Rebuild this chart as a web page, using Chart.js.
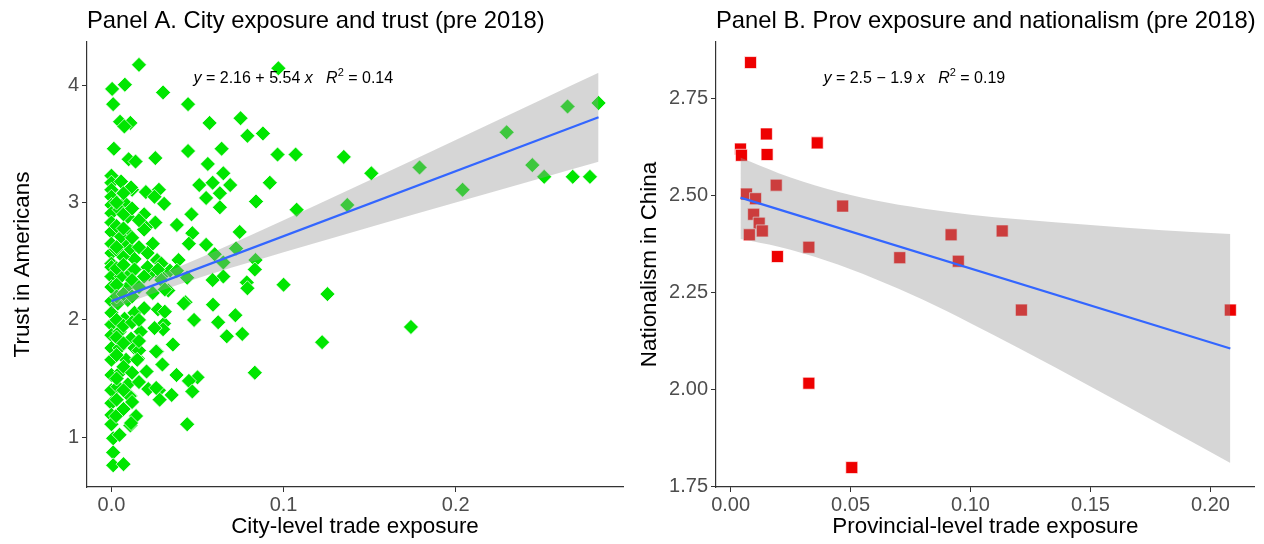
<!DOCTYPE html>
<html lang="en">
<head>
<meta charset="UTF-8">
<title>Trade exposure panels</title>
<script src="https://cdn.jsdelivr.net/npm/chart.js"></script>
<style>
    body {
        margin: 0;
        background: #ffffff;
        font-family: "Liberation Sans", Arial, sans-serif;
    }
    .panels {
        display: flex;
        width: 1264px;
        height: 544px;
    }
    canvas {
        display: block;
    }
</style>
</head>
<body>
<div class="panels">
    <canvas id="panelA" width="632" height="544"></canvas>
    <canvas id="panelB" width="632" height="544"></canvas>
</div>
<script>
// ---- Panel A: city-level exposure vs trust
const cityExposure = [
    0.016, 0.097, 0.0004, 0.0078, 0.030, 0.001, 0.0445, 0.005, 0.011, 0.0075,
    0.057, 0.075, 0.079, 0.088, 0.0014, 0.0445, 0.064, 0.0965, 0.107, 0.135,
    0.151, 0.179, 0.2296, 0.265, 0.283, 0.2445, 0.2514, 0.268, 0.278, 0.204,
    0.137, 0.1076, 0.010, 0.014, 0.0255, 0.056, 0.065, 0.051, 0.0588, 0.069,
    0.055, 0.063, 0.063, 0.092, 0.084, 0.012, 0.020, 0.0276, 0.0306, 0.019,
    0.0255, 0.038, 0.0465, 0.047, 0.0745, 0.020, 0.055, 0.0724, 0.060, 0.065,
    0.0837, 0.0833, 0.0786, 0.079, 0.100, 0.1255, 0.039, 0.044, 0.065, 0.0588,
    0.034, 0.029, 0.043, 0.059, 0.062, 0.048, 0.072, 0.076, 0.067, 0.174,
    0.1224, 0.0357, 0.0265, 0.0296, 0.0833, 0.0378, 0.050, 0.045, 0.047, 0.0214,
    0.0276, 0.028, 0.035, 0.0204, 0.011, 0.044, 0.0143, 0.011, 0.001, 0.001,
    0.001, 0.007, 0.0306, 0.030, 0.038, 0.0265, 0.033, 0.022,
    0.0, 0.0, 0.0, 0.0, 0.0, 0.0, 0.0, 0.0, 0.0, 0.0, 0.0,
    0.0, 0.0, 0.0, 0.0, 0.0, 0.0, 0.0, 0.0, 0.0, 0.0, 0.0, 0.0, 0.0, 0.0,
    0.0056, 0.0114, 0.025, 0.0076, 0.0095, 0.0047, 0.019, 0.024, 0.021, 0.0095,
    0.0085, 0.0114, 0.0134, 0.0066, 0.0027, 0.0056, 0.045, 0.029,
    0.0056, 0.0114, 0.0095, 0.0037, 0.0095, 0.0076, 0.0134, 0.0047, 0.0114, 0.0047,
    0.0134, 0.0085, 0.0153, 0.0056, 0.0095, 0.0037, 0.0105, 0.0114, 0.0027, 0.0047,
    0.0134, 0.021, 0.019, 0.027, 0.029, 0.024, 0.031, 0.019, 0.027, 0.031,
    0.025, 0.017, 0.016, 0.015, 0.026, 0.026, 0.042,
    0.003, 0.003, 0.003, 0.003, 0.003, 0.003, 0.003, 0.003, 0.003, 0.003, 0.003,
    0.007, 0.007, 0.007, 0.007, 0.007, 0.007, 0.007, 0.007, 0.007, 0.007,
    0.012, 0.012, 0.012, 0.012, 0.012, 0.012, 0.012,
    0.016, 0.016, 0.016, 0.016, 0.016, 0.016
];
const cityTrust = [
    4.175, 4.146, 3.97, 4.006, 3.94, 3.84, 3.84, 3.69, 3.68, 3.65,
    3.68, 3.72, 3.57, 3.59, 3.46, 3.44, 3.46, 3.41, 3.41, 3.39,
    3.25, 3.30, 3.60, 3.82, 3.85, 3.32, 3.22, 3.22, 3.22, 3.11,
    2.98, 2.94, 3.37, 3.35, 3.38, 3.33, 3.25, 3.15, 3.17, 3.15,
    3.04, 3.08, 2.96, 3.17, 3.01, 3.11, 3.09, 3.11, 2.99, 2.90,
    2.83, 2.81, 2.90, 2.74, 2.75, 2.79, 2.64, 2.61, 2.56, 2.49,
    2.51, 2.43, 2.32, 2.27, 2.30, 2.22, 2.51, 2.36, 2.37, 2.34,
    2.42, 2.37, 2.15, 2.13, 1.98, 2.00, 2.04, 1.88, 1.86, 1.94,
    1.81, 1.79, 1.73, 1.62, 1.55, 1.53, 1.51, 1.48, 1.39, 1.41,
    1.40, 1.32, 1.36, 1.56, 1.35, 1.11, 1.18, 1.10, 0.99, 0.87,
    0.76, 0.77, 1.97, 1.92, 2.42, 2.51, 2.25, 2.39,
    3.23, 3.17, 3.11, 3.05, 2.98, 2.91, 2.83, 2.75, 2.65, 2.57, 2.48,
    2.45, 2.37, 2.28, 2.16, 2.06, 1.96, 1.87, 1.76, 1.66, 1.53, 1.40, 1.29, 1.19, 1.11,
    3.18, 3.13, 3.05, 3.00, 2.88, 2.94, 2.77, 2.65, 2.57, 2.74,
    2.65, 2.60, 2.52, 2.54, 2.60, 2.71, 2.65, 2.48,
    2.37, 2.40, 2.28, 2.14, 2.17, 2.01, 2.06, 1.90, 1.84, 1.76,
    1.76, 1.66, 1.67, 1.56, 1.45, 1.43, 1.35, 1.12, 1.18, 1.02,
    2.43, 2.45, 2.37, 2.43, 2.34, 2.23, 2.26, 2.10, 2.09, 2.07,
    1.93, 1.90, 1.74, 1.66, 1.73, 1.42, 2.14,
    3.00, 2.80, 2.62, 2.44, 2.30, 2.20, 2.00, 1.85, 1.70, 1.50, 1.32,
    3.08, 2.90, 2.78, 2.47, 2.22, 1.95, 1.80, 1.60, 1.40, 1.24,
    2.95, 2.70, 2.34, 2.20, 1.98, 1.55, 1.30,
    2.85, 2.62, 2.28, 2.00, 1.82, 1.47
];
// fitted line and its 95% band, read at a few x positions
const fitXA = [0, 0.283];
const fitYA = [2.16, 3.728];
const bandXA = [0, 0.015, 0.04, 0.07, 0.1, 0.15, 0.2, 0.25, 0.283];
const bandHiA = [2.23, 2.31, 2.457, 2.65, 2.85, 3.191, 3.535, 3.88, 4.108];
const bandLoA = [2.09, 2.176, 2.306, 2.446, 2.578, 2.791, 3.001, 3.21, 3.348];
const xTicksA = [0, 0.1, 0.2];
const yTicksA = [1, 2, 3, 4];

// ---- Panel B: provincial exposure vs nationalism
const provExposure = [
    0.0083, 0.0041, 0.0045, 0.0149, 0.0152, 0.0361, 0.019, 0.0066, 0.0104, 0.0096,
    0.0119, 0.0132, 0.0078, 0.0467, 0.0195, 0.0326, 0.0705, 0.0919, 0.0949, 0.1132,
    0.1212, 0.2083, 0.0326, 0.0505
];
const provNationalism = [
    2.842, 2.619, 2.603, 2.658, 2.605, 2.635, 2.526, 2.503, 2.491, 2.451,
    2.428, 2.408, 2.398, 2.472, 2.342, 2.366, 2.339, 2.398, 2.330, 2.408,
    2.204, 2.204, 2.0155, 1.798
];
const fitXB = [0.0041, 0.2083];
const fitYB = [2.494, 2.105];
const bandXB = [0.0041, 0.02, 0.04, 0.06, 0.08, 0.10, 0.12, 0.15, 0.18, 0.2083];
const bandHiB = [2.597, 2.557, 2.517, 2.487, 2.466, 2.45, 2.438, 2.423, 2.41, 2.40];
const bandLoB = [2.387, 2.367, 2.331, 2.285, 2.231, 2.17, 2.106, 2.007, 1.906, 1.81];
const xTicksB = [0, 0.05, 0.10, 0.15, 0.20];
const yTicksB = [1.75, 2.00, 2.25, 2.50, 2.75];

const FONT = '"Liberation Sans", Arial, sans-serif';
const AXIS_COL = '#333333';

function pairs(xs, ys) {
    return xs.map((x, i) => ({ x: x, y: ys[i] }));
}

// draws panel title and the fit equation as canvas text
const textPlugin = {
    id: 'panelText',
    afterDraw(chart, args, opts) {
        const ctx = chart.ctx;
        const area = chart.chartArea;
        ctx.save();
        ctx.fillStyle = '#000';
        ctx.textBaseline = 'middle';
        ctx.textAlign = 'left';
        ctx.font = '23.8px ' + FONT;
        ctx.fillText(opts.title, area.left, 21);

        let x = chart.scales.x.getPixelForValue(opts.eqX);
        const y = chart.scales.y.getPixelForValue(opts.eqY);
        ctx.textBaseline = 'alphabetic';
        opts.eq.forEach(part => {
            const [txt, style] = part;
            let dy = 0;
            if (style === 'italic') ctx.font = 'italic 16px ' + FONT;
            else if (style === 'sup') { ctx.font = '11px ' + FONT; dy = -7; }
            else ctx.font = '16px ' + FONT;
            ctx.fillText(txt, x, y + 6 + dy);
            x += ctx.measureText(txt).width;
        });
        ctx.restore();
    }
};

function makePanel(id, cfg) {
    const ctx = document.getElementById(id).getContext('2d');
    return new Chart(ctx, {
        type: 'scatter',
        data: {
            datasets: [
                {
                    type: 'line',
                    data: pairs(cfg.fitX, cfg.fitY),
                    borderColor: '#3366FF',
                    borderWidth: 2.2,
                    pointRadius: 0,
                    fill: false,
                    order: 0
                },
                {
                    type: 'line',
                    data: pairs(cfg.bandX, cfg.bandHi),
                    borderColor: 'transparent',
                    borderWidth: 0,
                    pointRadius: 0,
                    cubicInterpolationMode: 'monotone',
                    backgroundColor: 'rgba(153,153,153,0.4)',
                    fill: '+1',
                    order: 1
                },
                {
                    type: 'line',
                    data: pairs(cfg.bandX, cfg.bandLo),
                    borderColor: 'transparent',
                    borderWidth: 0,
                    pointRadius: 0,
                    cubicInterpolationMode: 'monotone',
                    fill: false,
                    order: 1
                },
                {
                    data: pairs(cfg.xs, cfg.ys),
                    pointStyle: cfg.pointStyle,
                    pointRadius: cfg.pointRadius,
                    backgroundColor: cfg.color,
                    borderColor: '#ffffff',
                    borderWidth: 0.7,
                    order: 2
                }
            ]
        },
        options: {
            responsive: false,
            animation: false,
            layout: { padding: { top: 42, right: cfg.padRight, left: 0, bottom: 0 } },
            plugins: {
                legend: { display: false },
                tooltip: { enabled: false },
                panelText: { title: cfg.title, eq: cfg.eq, eqX: cfg.eqX, eqY: cfg.eqY }
            },
            scales: {
                x: {
                    type: 'linear',
                    min: cfg.xMin,
                    max: cfg.xMax,
                    afterBuildTicks: s => { s.ticks = cfg.xTicks.map(v => ({ value: v })); },
                    afterFit: s => { s.height = 57; },
                    ticks: {
                        callback: v => Number(v).toFixed(cfg.xDigits),
                        color: '#4D4D4D',
                        font: { family: FONT, size: 20 },
                        padding: 1,
                        maxRotation: 0
                    },
                    grid: { drawOnChartArea: false, drawTicks: true, tickLength: 5, color: AXIS_COL },
                    border: { display: true, color: AXIS_COL, width: 1.2 },
                    title: {
                        display: true,
                        text: cfg.xTitle,
                        color: '#000',
                        font: { family: FONT, size: 22.4 },
                        padding: { top: 0, bottom: 4 }
                    }
                },
                y: {
                    type: 'linear',
                    min: cfg.yMin,
                    max: cfg.yMax,
                    afterBuildTicks: s => { s.ticks = cfg.yTicks.map(v => ({ value: v })); },
                    afterFit: s => { s.width = cfg.yWidth; },
                    ticks: {
                        callback: v => Number(v).toFixed(cfg.yDigits),
                        color: '#4D4D4D',
                        font: { family: FONT, size: 20 },
                        padding: 3
                    },
                    grid: { drawOnChartArea: false, drawTicks: true, tickLength: 5, color: AXIS_COL },
                    border: { display: true, color: AXIS_COL, width: 1.2 },
                    title: {
                        display: true,
                        text: cfg.yTitle,
                        color: '#000',
                        font: { family: FONT, size: 22.4 },
                        padding: { top: cfg.yTitlePad, bottom: 0 }
                    }
                }
            }
        },
        plugins: [textPlugin]
    });
}

makePanel('panelA', {
    title: 'Panel A. City exposure and trust (pre 2018)',
    xs: cityExposure, ys: cityTrust,
    fitX: fitXA, fitY: fitYA,
    bandX: bandXA, bandHi: bandHiA, bandLo: bandLoA,
    xTicks: xTicksA, yTicks: yTicksA, xDigits: 1, yDigits: 0,
    xMin: -0.0142, xMax: 0.2972, yMin: 0.575, yMax: 4.37,
    xTitle: 'City-level trade exposure', yTitle: 'Trust in Americans',
    yWidth: 87, padRight: 9, yTitlePad: 9,
    pointStyle: 'rectRot', pointRadius: 7.5, color: '#00E600',
    eqX: 0.0477, eqY: 4.07,
    eq: [['y', 'italic'], [' = 2.16 + 5.54 ', ''], ['x', 'italic'], ['   ', ''], ['R', 'italic'], ['2', 'sup'], [' = 0.14', '']]
});

makePanel('panelB', {
    title: 'Panel B. Prov exposure and nationalism (pre 2018)',
    xs: provExposure, ys: provNationalism,
    fitX: fitXB, fitY: fitYB,
    bandX: bandXB, bandHi: bandHiB, bandLo: bandLoB,
    xTicks: xTicksB, yTicks: yTicksB, xDigits: 2, yDigits: 2,
    xMin: -0.0061, xMax: 0.2185, yMin: 1.748, yMax: 2.895,
    xTitle: 'Provincial-level trade exposure', yTitle: 'Nationalism in China',
    yWidth: 84, padRight: 6, yTitlePad: 4,
    pointStyle: 'rect', pointRadius: 8.5, color: '#EE0000',
    eqX: 0.0387, eqY: 2.805,
    eq: [['y', 'italic'], [' = 2.5 \u2212 1.9 ', ''], ['x', 'italic'], ['   ', ''], ['R', 'italic'], ['2', 'sup'], [' = 0.19', '']]
});
</script>
</body>
</html>
